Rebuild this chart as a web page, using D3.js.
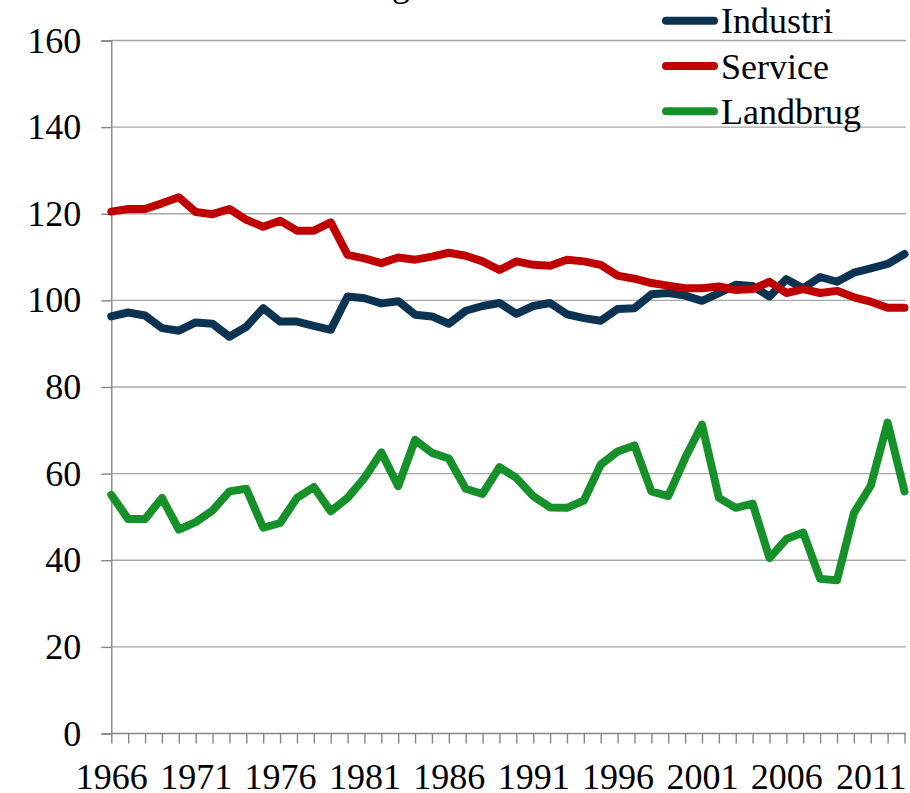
<!DOCTYPE html>
<html>
<head>
<meta charset="utf-8">
<script src="https://cdn.jsdelivr.net/npm/d3@7"></script>
<style>
  html, body { margin: 0; padding: 0; background: #fff; }
  svg { display: block; }
  svg text { font-family: "Liberation Serif", "Times New Roman", serif !important; fill: #000; }
</style>
</head>
<body>
<svg id="chart" width="910" height="793"></svg>
<script>
const years = d3.range(1966, 2014);
const industri = [96.3, 97.2, 96.5, 93.6, 93.0, 94.9, 94.6, 91.6, 93.9, 98.2,
  95.1, 95.1, 94.1, 93.2, 100.9, 100.5, 99.3, 99.8, 96.7, 96.3,
  94.6, 97.6, 98.7, 99.4, 96.9, 98.7, 99.4, 96.8, 95.9, 95.3,
  98.0, 98.2, 101.4, 101.7, 101.1, 99.9, 101.7, 103.6, 103.3, 100.9,
  104.9, 102.8, 105.4, 104.3, 106.4, 107.4, 108.4, 110.7];
const service = [120.5, 121.1, 121.1, 122.4, 123.8, 120.4, 119.9, 121.1, 118.6, 117.0,
  118.4, 116.1, 116.1, 118.0, 110.5, 109.7, 108.6, 109.9, 109.4, 110.1,
  111.0, 110.3, 109.0, 107.0, 109.0, 108.2, 108.0, 109.4, 109.0, 108.2,
  105.7, 105.0, 104.0, 103.4, 102.8, 102.8, 103.2, 102.4, 102.6, 104.3,
  101.7, 102.6, 101.7, 102.2, 100.7, 99.7, 98.3, 98.3];
const landbrug = [55.1, 49.5, 49.5, 54.4, 47.1, 48.8, 51.5, 55.9, 56.5, 47.5,
  48.6, 54.4, 56.9, 51.3, 54.4, 59.0, 64.9, 57.1, 67.8, 64.8,
  63.5, 56.5, 55.3, 61.5, 59.0, 54.8, 52.2, 52.1, 53.8, 62.1,
  65.1, 66.5, 55.9, 54.8, 63.6, 71.3, 54.4, 52.1, 53.1, 40.5,
  44.9, 46.4, 35.7, 35.4, 50.9, 57.2, 71.8, 55.9];
const seriesNames = ["Industri", "Service", "Landbrug"];
const seriesColors = ["#0c3352", "#c00000", "#16912a"];
const yTicks = [0, 20, 40, 60, 80, 100, 120, 140, 160];
const xLabels = [1966, 1971, 1976, 1981, 1986, 1991, 1996, 2001, 2006, 2011];
const titleText = "Udvikling";

const FONT = "'Liberation Serif', 'Times New Roman', serif";
const svg = d3.select("#chart");
const x = d3.scaleLinear().domain([1966, 2013]).range([111.3, 904.5]);
const y = d3.scaleLinear().domain([0, 160]).range([733.5, 40.5]);
const xRight = 906;

// title (mostly above the visible area, as in the reference)
svg.append("text").attr("x", 410).attr("y", -4).attr("text-anchor", "end")
  .attr("font-family", FONT).attr("font-size", 36).text(titleText);

// gridlines
svg.append("g").selectAll("line").data(yTicks.filter(d => d > 0)).join("line")
  .attr("x1", x(1966)).attr("x2", xRight)
  .attr("y1", d => y(d)).attr("y2", d => y(d))
  .attr("stroke", "#a6a6a6").attr("stroke-width", 1.4);

// y axis
const yAxis = d3.axisLeft(y).tickValues(yTicks).tickSize(10).tickPadding(20)
  .tickFormat(d3.format("d"));
const gy = svg.append("g").attr("transform", `translate(${x(1966)},0)`).call(yAxis)
  .attr("font-family", FONT).attr("font-size", 36);
gy.select(".domain").attr("stroke", "#868686").attr("stroke-width", 1.4);
gy.selectAll(".tick line").attr("stroke", "#868686").attr("stroke-width", 1.4);
gy.selectAll(".tick text").attr("fill", "#000");

// x axis
const xAxis = d3.axisBottom(x).tickValues(years).tickSize(10).tickSizeOuter(0)
  .tickFormat(d => xLabels.includes(d) ? String(d) : "");
const gx = svg.append("g").attr("transform", `translate(0,${y(0)})`).call(xAxis)
  .attr("font-family", FONT).attr("font-size", 36);
gx.select(".domain").attr("stroke", "#868686").attr("stroke-width", 1.4)
  .attr("d", `M${x(1966)},0H${xRight}`);
gx.selectAll(".tick line").attr("stroke", "#868686").attr("stroke-width", 1.4);
gx.selectAll(".tick text").attr("fill", "#000").attr("dy", 0).attr("y", 55);

// lines
const data = [industri, service, landbrug];
const line = d3.line().x((d, i) => x(years[i])).y(d => y(d));
svg.append("g").selectAll("path").data(data).join("path")
  .attr("d", d => line(d))
  .attr("fill", "none")
  .attr("stroke", (d, i) => seriesColors[i])
  .attr("stroke-width", 8)
  .attr("stroke-linejoin", "round")
  .attr("stroke-linecap", "round");

// legend
const lg = svg.append("g").selectAll("g").data(seriesNames).join("g")
  .attr("transform", (d, i) => `translate(0,${20.7 + i * 45.3})`);
lg.append("line").attr("x1", 666).attr("x2", 714).attr("y1", 0).attr("y2", 0)
  .attr("stroke", (d, i) => seriesColors[i]).attr("stroke-width", 8)
  .attr("stroke-linecap", "round");
lg.append("text").attr("x", 721).attr("y", 12.5)
  .attr("font-family", FONT).attr("font-size", 36).text(d => d);
</script>
</body>
</html>
